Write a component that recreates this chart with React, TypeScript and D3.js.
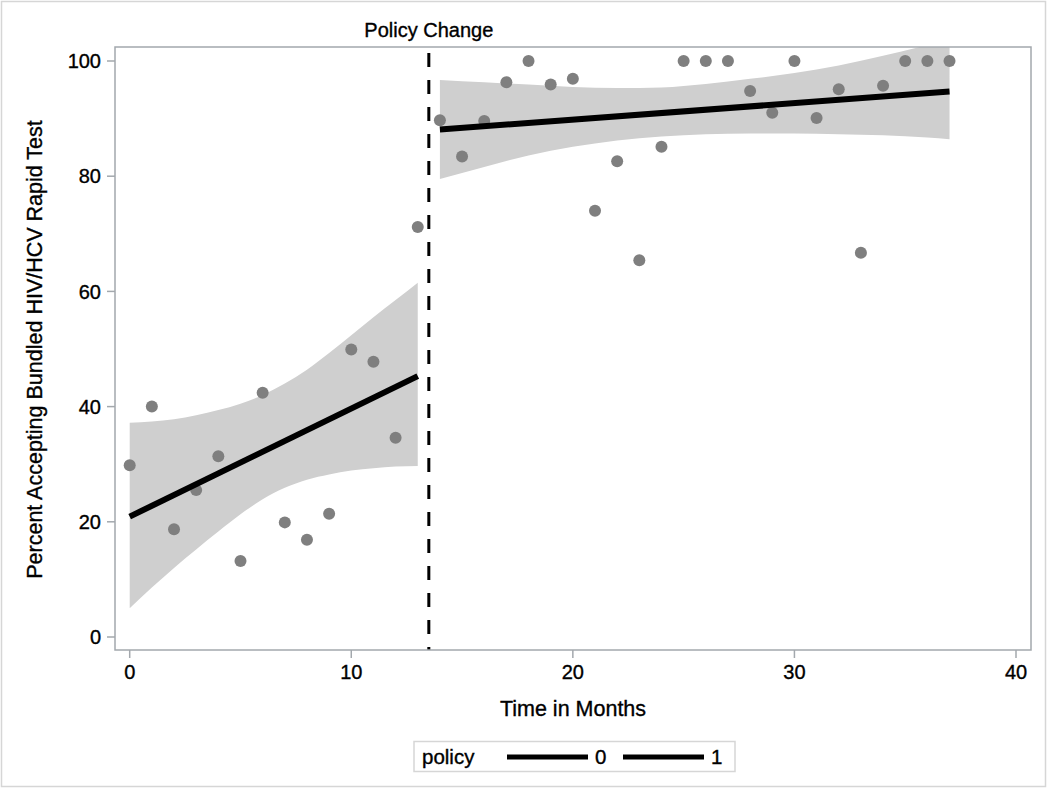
import React, { useEffect } from 'react';
import * as d3 from 'd3';

// ---- data ----
const monthsPre = [0, 1, 2, 3, 4, 5, 6, 7, 8, 9, 10, 11, 12, 13];
const valuesPre = [29.8, 40.0, 18.7, 25.5, 31.4, 13.2, 42.4, 19.9, 16.9, 21.4, 49.9, 47.8, 34.6, 71.2];

const monthsPost = [14, 15, 16, 17, 18, 19, 20, 21, 22, 23, 24, 25, 26, 27, 28, 29, 30, 31, 32, 33, 34, 35, 36, 37];
const valuesPost = [89.7, 83.4, 89.6, 96.3, 100, 95.9, 96.9, 74.0, 82.6, 65.4, 85.1, 100, 100, 100, 94.8, 91.0, 100, 90.1, 95.1, 66.7, 95.7, 100, 100, 100];

const bandPreMonths = [0, 1, 2, 3, 4, 5, 6, 7, 8, 9, 10, 11, 12, 13];
const bandPreLower = [5.0, 8.6, 12.0, 15.2, 18.3, 21.3, 23.9, 25.9, 27.3, 28.2, 28.9, 29.3, 29.6, 29.7];
const bandPreUpper = [37.2, 37.4, 37.8, 38.5, 39.4, 40.5, 42.0, 44.0, 46.4, 49.3, 52.4, 55.5, 58.5, 61.5];

const bandPostMonths = [14, 16, 18, 20, 22, 24, 26, 28, 30, 32, 34, 36, 37];
const bandPostLower = [79.5, 81.6, 83.6, 85.1, 86.2, 86.9, 87.3, 87.4, 87.4, 87.3, 87.1, 86.7, 86.4];
const bandPostUpper = [96.7, 96.3, 95.9, 95.5, 95.3, 95.4, 96.0, 96.9, 97.9, 99.2, 100.9, 102.8, 104.0];

const fitPreMonths = [0, 13];
const fitPreValues = [20.9, 45.3];
const fitPostMonths = [14, 37];
const fitPostValues = [88.1, 94.7];

const policyChangeMonth = 13.5;
const xTicks = [0, 10, 20, 30, 40];
const yTicks = [0, 20, 40, 60, 80, 100];
const legendTitle = 'policy';
const legendLabels = ['0', '1'];

const xTitle = 'Time in Months';
const yTitle = 'Percent Accepting Bundled HIV/HCV Rapid Test';
const refLabel = 'Policy Change';

// ---- layout ----
const W = 1050;
const H = 790;
const frame = { left: 115, top: 47, right: 1031, bottom: 650 };
const FONT = "'Liberation Sans', Arial, sans-serif";
const AXIS_GRAY = '#a3a8ad';
const TXT = { fill: '#000', stroke: '#000', strokeWidth: 0.35 };

export default function App() {
  useEffect(() => {
    document.body.style.margin = '0';
  }, []);

  const x = d3.scaleLinear().domain([0, 40]).range([129.7, 1016]);
  const y = d3.scaleLinear().domain([0, 100]).range([637, 61]);

  const makeBand = (ms: number[], lo: number[], hi: number[]) =>
    d3
      .area<number>()
      .x((_, i) => x(ms[i]))
      .y0((_, i) => y(lo[i]))
      .y1((_, i) => y(hi[i]))
      .curve(d3.curveMonotoneX)(ms) as string;

  const line = (ms: number[], vs: number[]) =>
    d3
      .line<number>()
      .x((_, i) => x(ms[i]))
      .y((_, i) => y(vs[i]))(ms) as string;

  const pts = [
    ...monthsPre.map((m, i) => ({ m, v: valuesPre[i] })),
    ...monthsPost.map((m, i) => ({ m, v: valuesPost[i] })),
  ];

  const xc = (frame.left + frame.right) / 2;
  const yc = (frame.top + frame.bottom) / 2;
  const xr = x(policyChangeMonth);

  return (
    <svg width={W} height={H} style={{ display: 'block' }} fontFamily={FONT}>
      <rect x={0} y={0} width={W} height={H} fill="#fff" />
      <rect x={1.5} y={1.5} width={1044} height={785} fill="none" stroke="#d6d6d6" strokeWidth={1.5} />

      <defs>
        <clipPath id="plotclip">
          <rect x={frame.left} y={frame.top} width={frame.right - frame.left} height={frame.bottom - frame.top} />
        </clipPath>
      </defs>

      <g clipPath="url(#plotclip)">
        <path d={makeBand(bandPreMonths, bandPreLower, bandPreUpper)} fill="#cfcfcf" />
        <path d={makeBand(bandPostMonths, bandPostLower, bandPostUpper)} fill="#cfcfcf" />
        {pts.map((p, i) => (
          <circle key={i} cx={x(p.m)} cy={y(p.v)} r={6} fill="#7f7f7f" />
        ))}
        <path d={line(fitPreMonths, fitPreValues)} stroke="#000" strokeWidth={6} fill="none" />
        <path d={line(fitPostMonths, fitPostValues)} stroke="#000" strokeWidth={6} fill="none" />
      </g>

      {/* reference line */}
      <line
        x1={xr}
        x2={xr}
        y1={frame.top + 6}
        y2={frame.bottom}
        stroke="#000"
        strokeWidth={3}
        strokeDasharray="14 13"
      />
      <text x={xr} y={37} textAnchor="middle" fontSize={20} {...TXT}>
        {refLabel}
      </text>

      {/* frame */}
      <rect
        x={frame.left}
        y={frame.top}
        width={frame.right - frame.left}
        height={frame.bottom - frame.top}
        fill="none"
        stroke={AXIS_GRAY}
        strokeWidth={1.5}
      />

      {/* y axis */}
      {yTicks.map((t) => (
        <g key={'y' + t}>
          <line x1={frame.left - 8} x2={frame.left} y1={y(t)} y2={y(t)} stroke={AXIS_GRAY} strokeWidth={1.5} />
          <text x={frame.left - 14} y={y(t)} dy="0.36em" textAnchor="end" fontSize={20} {...TXT}>
            {t}
          </text>
        </g>
      ))}
      {/* x axis */}
      {xTicks.map((t) => (
        <g key={'x' + t}>
          <line x1={x(t)} x2={x(t)} y1={frame.bottom} y2={frame.bottom + 8} stroke={AXIS_GRAY} strokeWidth={1.5} />
          <text x={x(t)} y={679} textAnchor="middle" fontSize={20} {...TXT}>
            {t}
          </text>
        </g>
      ))}

      <text x={xc} y={716} textAnchor="middle" fontSize={21.5} {...TXT}>
        {xTitle}
      </text>
      <text
        transform={`translate(42,${yc + 1}) rotate(-90)`}
        textAnchor="middle"
        fontSize={21.5}
        {...TXT}
      >
        {yTitle}
      </text>

      {/* legend */}
      <rect x={414} y={741.5} width={321} height={30} fill="#fff" stroke="#d6d6d6" strokeWidth={1.5} />
      <text x={422} y={764} fontSize={20.5} {...TXT}>
        {legendTitle}
      </text>
      {legendLabels.map((lab, i) => {
        const x0 = 507 + i * 116;
        return (
          <g key={lab}>
            <line x1={x0} x2={x0 + 81} y1={757} y2={757} stroke="#000" strokeWidth={5} />
            <text x={x0 + 88} y={764} fontSize={20.5} {...TXT}>
              {lab}
            </text>
          </g>
        );
      })}
    </svg>
  );
}
